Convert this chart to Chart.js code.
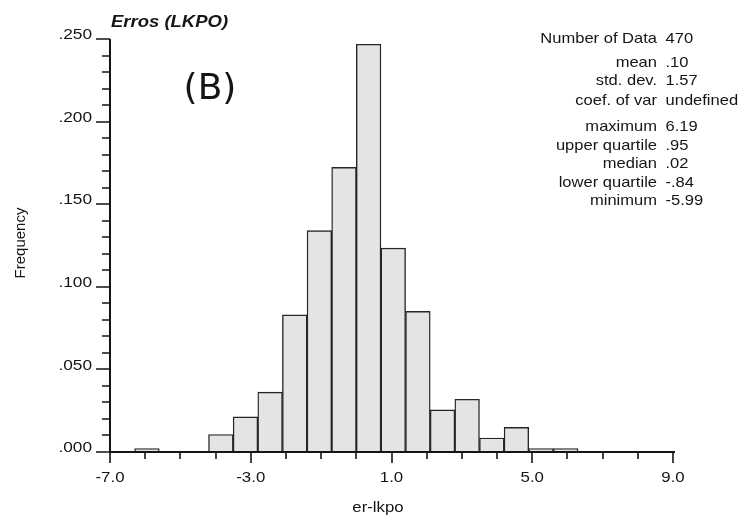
<!DOCTYPE html>
<html>
<head>
<meta charset="utf-8">
<script src="https://cdn.jsdelivr.net/npm/chart.js@4.4.1/dist/chart.umd.min.js"></script>
<style>
html,body{margin:0;padding:0;background:#fff;}
#wrap{width:739px;height:517px;position:relative;}
</style>
</head>
<body>
<div id="wrap"><canvas id="c" width="739" height="517"></canvas></div>
<script>
// Histogram bins (centers of 0.7-wide classes) and relative frequencies
const binCenters = [-5.95,-5.25,-4.55,-3.85,-3.15,-2.45,-1.75,-1.05,-0.35,0.35,1.05,1.75,2.45,3.15,3.85,4.55,5.25,5.95];
const frequencies = [0.0021,0,0,0.0106,0.0213,0.0362,0.0830,0.1340,0.1723,0.2468,0.1234,0.0851,0.0255,0.0319,0.0085,0.0149,0.0021,0.0021];
const xTickValues = [-7,-3,1,5,9];
const xTickLabels = ['-7.0','-3.0','1.0','5.0','9.0'];
const yTickValues = [0,0.05,0.10,0.15,0.20,0.25];
const yTickLabels = ['.000','.050','.100','.150','.200','.250'];
const statNames = ['Number of Data','mean','std. dev.','coef. of var','maximum','upper quartile','median','lower quartile','minimum'];
const statValues = ['470','.10','1.57','undefined','6.19','.95','.02','-.84','-5.99'];
const titleText = 'Erros (LKPO)';
const panelText = '(B)';
const xTitle = 'er-lkpo';
const yTitle = 'Frequency';

const INK = '#151515';
const FONT = '"Liberation Sans", Arial, sans-serif';

const decor = {
  id: 'decor',
  afterDatasetsDraw(chart) {
    const ctx = chart.ctx;
    const xs = chart.scales.x, ys = chart.scales.y;
    const x0 = xs.getPixelForValue(-7), x1 = xs.getPixelForValue(9);
    const y0 = ys.getPixelForValue(0), y1 = ys.getPixelForValue(0.25);
    ctx.save();
    ctx.strokeStyle = INK;
    ctx.lineCap = 'butt';
    // axes
    ctx.lineWidth = 2;
    ctx.beginPath();
    ctx.moveTo(x0, y1); ctx.lineTo(x0, y0 + 1);
    ctx.moveTo(x0 - 1, y0); ctx.lineTo(x1 + 2, y0);
    ctx.stroke();
    // y ticks
    ctx.lineWidth = 1.6;
    ctx.beginPath();
    for (let i = 0; i <= 25; i++) {
      const p = Math.round(ys.getPixelForValue(i / 100));
      const len = (i % 5 === 0) ? 14 : 8;
      ctx.moveTo(x0 - len, p); ctx.lineTo(x0, p);
    }
    ctx.stroke();
    // x ticks
    ctx.beginPath();
    for (let v = -7; v <= 9; v++) {
      const p = Math.round(xs.getPixelForValue(v));
      const len = ((v + 7) % 4 === 0) ? 11 : 7;
      ctx.moveTo(p, y0); ctx.lineTo(p, y0 + len);
    }
    ctx.stroke();
    // text
    ctx.fillStyle = INK;
    function sText(t, x, y, align, font, sx) {
      ctx.save();
      ctx.font = font;
      ctx.textAlign = align;
      ctx.textBaseline = 'middle';
      ctx.translate(x, y);
      ctx.scale(sx || 1, 1);
      ctx.fillText(t, 0, 0);
      ctx.restore();
    }
    // y tick labels
    yTickLabels.forEach((t, i) => {
      sText(t, x0 - 18, ys.getPixelForValue(yTickValues[i]) - 4, 'right', '15px ' + FONT, 1.15);
    });
    // x tick labels
    xTickLabels.forEach((t, i) => {
      sText(t, xs.getPixelForValue(xTickValues[i]), y0 + 26, 'center', '15px ' + FONT, 1.12);
    });
    // axis titles
    sText(xTitle, 378, 508, 'center', '15px ' + FONT, 1.12);
    ctx.save();
    ctx.translate(21, 243);
    ctx.rotate(-Math.PI / 2);
    ctx.font = '15px ' + FONT;
    ctx.textAlign = 'center';
    ctx.textBaseline = 'middle';
    ctx.fillText(yTitle, 0, 0);
    ctx.restore();
    // chart title
    sText(titleText, 111, 22, 'left', 'italic bold 16.5px ' + FONT, 1.12);
    // panel label
    sText(panelText, 210, 90, 'center', '36px "DejaVu Sans", sans-serif', 1.0);
    // statistics
    const rows = [38.5, 63.3, 81, 100.5, 126.7, 146, 164, 183.3, 200.7];
    statNames.forEach((t, i) => {
      sText(t, 657, rows[i], 'right', '14.5px ' + FONT, 1.14);
      sText(statValues[i], 665.5, rows[i], 'left', '14.5px ' + FONT, 1.14);
    });
    ctx.restore();
  }
};

new Chart(document.getElementById('c'), {
  type: 'bar',
  data: {
    datasets: [{
      data: binCenters.map((x, i) => ({ x: x, y: frequencies[i] })),
      backgroundColor: '#e4e4e4',
      borderColor: '#262626',
      borderWidth: 1.4,
      borderSkipped: 'bottom',
      barPercentage: 1,
      categoryPercentage: 1
    }]
  },
  options: {
    responsive: false,
    animation: false,
    devicePixelRatio: 1,
    layout: { padding: { left: 110, right: 66, top: 39, bottom: 65 } },
    plugins: { legend: { display: false }, tooltip: { enabled: false }, title: { display: false } },
    scales: {
      x: { type: 'linear', min: -7, max: 9, offset: false, display: false },
      y: { type: 'linear', min: 0, max: 0.25, display: false }
    }
  },
  plugins: [decor]
});
</script>
</body>
</html>
